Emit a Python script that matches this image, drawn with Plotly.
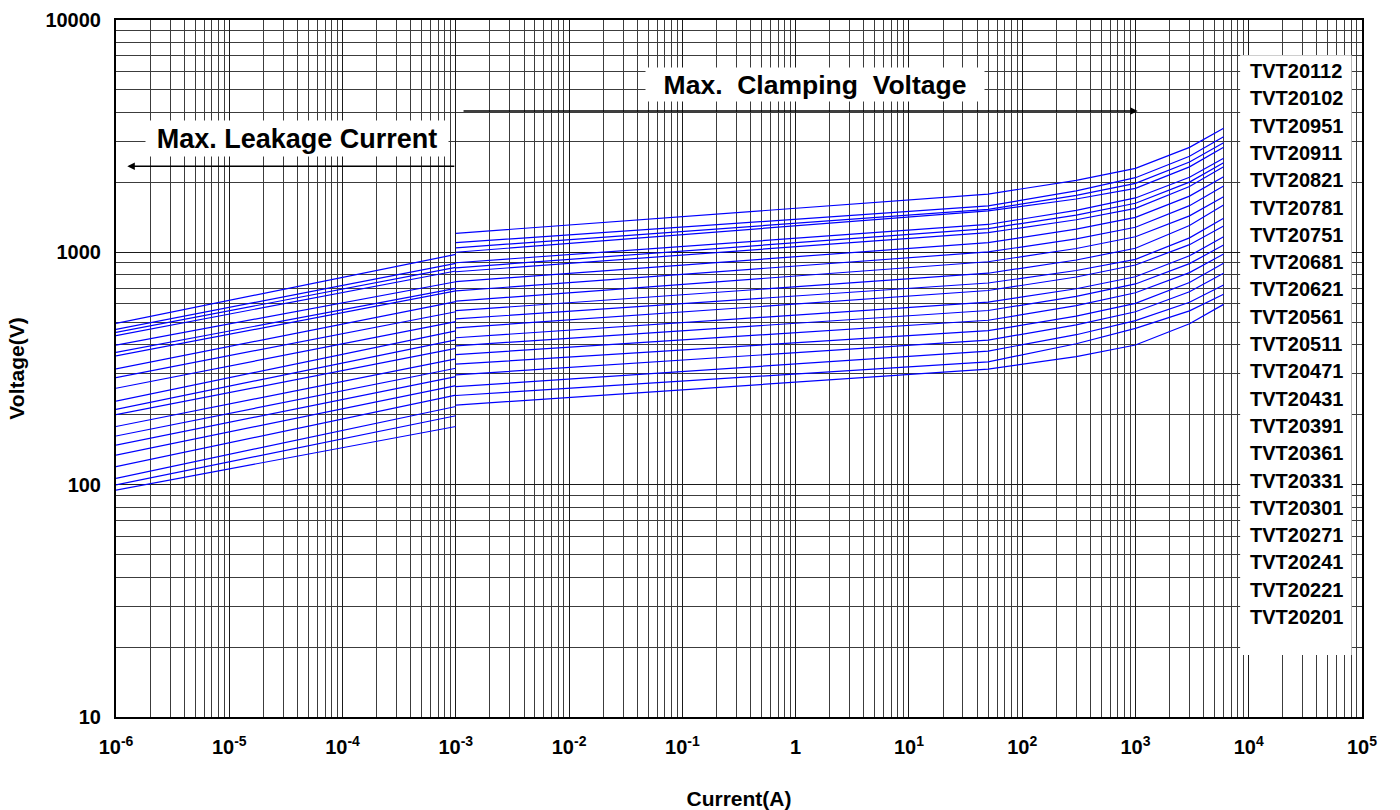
import plotly.graph_objects as go

# Part numbers, listed from the highest to the lowest varistor voltage
models = ["TVT20112", "TVT20102", "TVT20951", "TVT20911", "TVT20821", "TVT20781",
          "TVT20751", "TVT20681", "TVT20621", "TVT20561", "TVT20511", "TVT20471",
          "TVT20431", "TVT20391", "TVT20361", "TVT20331", "TVT20301", "TVT20271",
          "TVT20241", "TVT20221", "TVT20201"]

# Max. leakage current curves (V at 1 uA and at 1 mA)
leak_current = [1e-6, 1e-3]
leak_1uA = [495, 466, 452, 438, 399, 371, 358, 315, 289, 260, 229,
            211, 200, 178, 162, 148, 134, 119.5, 106.5, 99.7, 94.8]
leak_1mA = [980, 897, 862, 831, 747, 700, 682, 613, 555, 503, 459,
            420, 386, 348, 317, 292, 267, 243, 217, 198, 178]

# Max. clamping voltage curves (V at each current)
clamp_current = [1e-3, 1, 50, 300, 1000, 3000, 6000]
clamp_1mA = [1207, 1100, 1045, 1001, 902, 858, 825, 748, 682, 616, 561,
             517, 473, 429, 396, 363, 330, 297, 264, 242, 220]
clamp_1A = [1547, 1388, 1334, 1300, 1149, 1100, 1057, 957, 873, 791, 711,
            649, 599, 537, 495, 451, 408, 370, 331, 299.5, 276]
clamp_50A = [1781, 1584, 1532, 1508, 1318, 1266, 1216, 1101, 1004, 911, 813,
             738, 685, 610, 562, 510, 460, 419, 376, 338, 314]
clamp_300A = [2040, 1839, 1757, 1696, 1516, 1446, 1381, 1258, 1143, 1039, 927,
              835, 783, 697, 646, 590, 531, 487, 442, 404, 356]
clamp_1kA = [2299, 2095, 1982, 1886, 1714, 1626, 1547, 1415, 1282, 1167, 1041,
             933, 882, 785, 731, 670, 603, 555, 508, 471, 399]
clamp_3kA = [2830, 2591, 2446, 2333, 2104, 2006, 1920, 1746, 1588, 1435, 1304,
             1154, 1079, 966, 894, 818, 742, 677, 610, 560, 493]
clamp_6kA = [3420, 3146, 2964, 2832, 2540, 2431, 2337, 2116, 1930, 1735, 1599,
             1401, 1299, 1167, 1075, 983, 897, 813, 723, 660, 597]

x_tickvals = [1e-6, 1e-5, 1e-4, 1e-3, 1e-2, 1e-1, 1, 1e1, 1e2, 1e3, 1e4, 1e5]
x_ticktext = ["<b>10<sup>-6</sup></b>", "<b>10<sup>-5</sup></b>", "<b>10<sup>-4</sup></b>",
              "<b>10<sup>-3</sup></b>", "<b>10<sup>-2</sup></b>", "<b>10<sup>-1</sup></b>",
              "<b>1</b>", "<b>10<sup>1</sup></b>", "<b>10<sup>2</sup></b>",
              "<b>10<sup>3</sup></b>", "<b>10<sup>4</sup></b>", "<b>10<sup>5</sup></b>"]
y_tickvals = [10, 100, 1000, 10000]
y_ticktext = ["<b>10</b>", "<b>100</b>", "<b>1000</b>", "<b>10000</b>"]

FONT = "Liberation Sans, Arial, sans-serif"
LINE_BLUE = "#0000FF"

fig = go.Figure()

clamp_cols = [clamp_1mA, clamp_1A, clamp_50A, clamp_300A, clamp_1kA, clamp_3kA, clamp_6kA]
for i, name in enumerate(models):
    xs = leak_current + [None] + clamp_current
    ys = [leak_1uA[i], leak_1mA[i], None] + [col[i] for col in clamp_cols]
    fig.add_trace(go.Scatter(x=xs, y=ys, mode="lines", name=name,
                             line=dict(color=LINE_BLUE, width=1.2),
                             connectgaps=False, showlegend=False,
                             hoverinfo="skip"))

# minor grid positions (2..9 within every decade)
x_minor = [k * 10.0 ** e for e in range(-6, 5) for k in range(2, 10)]
y_minor = [k * 10.0 ** e for e in range(1, 4) for k in range(2, 10)]

axis_common = dict(
    type="log", automargin=False,
    showline=True, linecolor="black", linewidth=2, mirror=True,
    showgrid=True, gridcolor="#1a1a1a", gridwidth=1.4,
    ticks="", zeroline=False,
    tickfont=dict(family=FONT, size=20, color="black"),
)

fig.update_xaxes(
    **axis_common,
    range=[-6, 5],
    tickvals=x_tickvals, ticktext=x_ticktext,
    minor=dict(tickvals=x_minor, showgrid=True, gridcolor="#3c3c3c", gridwidth=1.1, ticks=""),
    ticklabelstandoff=11,
    title=dict(text="<b>Current(A)</b>", font=dict(family=FONT, size=21, color="black"),
               standoff=36),
)
fig.update_yaxes(
    **axis_common,
    range=[1, 4],
    tickvals=y_tickvals, ticktext=y_ticktext,
    minor=dict(tickvals=y_minor, showgrid=True, gridcolor="#3c3c3c", gridwidth=1.1, ticks=""),
    ticklabelstandoff=9,
    title=dict(text="<b>Voltage(V)</b>", font=dict(family=FONT, size=21, color="black"),
               standoff=15),
)

# white panel holding the part-number column
fig.add_shape(type="rect", xref="x", yref="y", x0=8400, x1=81000, y0=18.5, y1=7060,
              fillcolor="white", line=dict(width=0), layer="above")

label_top = 0.9268
label_step = 0.03917
for i, name in enumerate(models):
    fig.add_annotation(x=3.99, y=label_top - i * label_step, xref="x", yref="paper",
                       text="<b>" + name + "</b>", showarrow=False,
                       xanchor="left", yanchor="middle",
                       font=dict(family=FONT, size=20, color="black"))

# region arrows
fig.add_annotation(x=3.02, y=3.608, ax=-2.945, ay=3.608, xref="x", yref="y",
                   axref="x", ayref="y", text="", showarrow=True,
                   arrowhead=2, arrowsize=1, arrowwidth=1.5, arrowcolor="black", standoff=0)
fig.add_annotation(x=-5.90, y=3.371, ax=-3.0, ay=3.371, xref="x", yref="y",
                   axref="x", ayref="y", text="", showarrow=True,
                   arrowhead=2, arrowsize=1, arrowwidth=1.5, arrowcolor="black", standoff=0)

# region captions on white boxes
fig.add_annotation(x=0.171, y=3.722, xref="x", yref="y", showarrow=False,
                   text="<b>Max.&nbsp;&nbsp;Clamping&nbsp;&nbsp;Voltage</b>",
                   bgcolor="white", width=338, height=33, borderpad=0,
                   font=dict(family=FONT, size=26.5, color="black"))
fig.add_annotation(x=-4.406, y=3.492, xref="x", yref="y", showarrow=False,
                   text="<b>Max. Leakage Current</b>",
                   bgcolor="white", width=302, height=35, borderpad=0,
                   font=dict(family=FONT, size=27, color="black"))

fig.update_layout(
    width=1400, height=810,
    margin=dict(l=116, r=38, t=20, b=93),
    plot_bgcolor="white", paper_bgcolor="white",
    showlegend=False,
)

fig.write_html("out.html")
